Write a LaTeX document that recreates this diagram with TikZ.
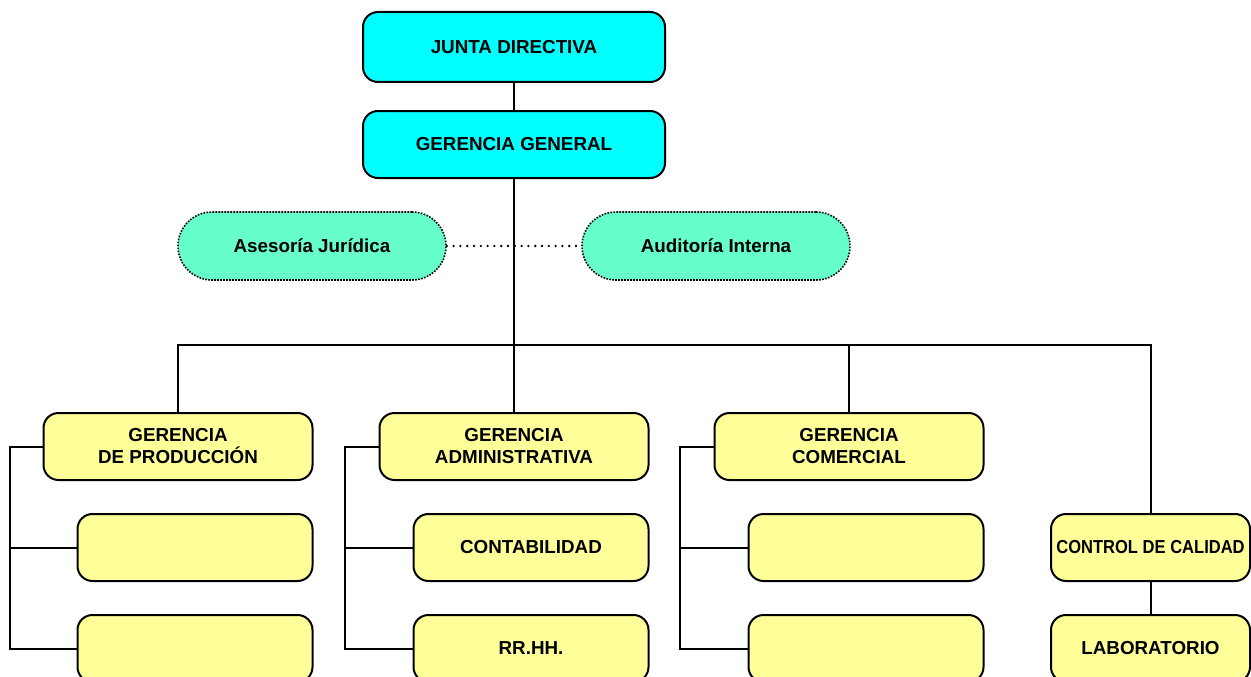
\documentclass[tikz,border=0pt]{standalone}
\usepackage{fontspec}
\setmainfont{Liberation Sans}
\definecolor{cielo}{HTML}{00FFFF}
\definecolor{menta}{HTML}{66FFCC}
\definecolor{crema}{HTML}{FFFF99}
\tikzset{
    caja/.style={draw, line width=2pt, rounded corners=15pt, align=center,
        font=\fontsize{18.8}{22}\selectfont\bfseries, inner sep=0pt},
    jefe/.style={caja, fill=cielo, minimum width=302pt, minimum height=70pt},
    asesor/.style={caja, fill=menta, rounded corners=34pt, line width=1.6pt,
        dash pattern=on 1.6pt off 1.4pt, minimum width=268pt, minimum height=68pt},
    gerencia/.style={caja, fill=crema, minimum width=269pt, minimum height=67pt},
    unidad/.style={caja, fill=crema, minimum width=235pt, minimum height=67pt},
    linea/.style={line width=2pt}
}
\begin{document}
\begin{tikzpicture}[x=1pt, y=-1pt]
        \useasboundingbox (0, 0) rectangle (1251, 677);

        \begin{scope}
            % cabeza
            \node[jefe] (junta) at (514, 47) {JUNTA DIRECTIVA};
            \node[jefe, minimum height=67pt] (general) at (514, 144.5) {GERENCIA GENERAL};

            % staff
            \node[asesor] (juridica) at (312, 246) {Asesoría Jurídica};
            \node[asesor] (auditoria) at (716, 246) {Auditoría Interna};

            % gerencias
            \node[gerencia] (produccion) at (178, 446.5) {GERENCIA\\DE PRODUCCIÓN};
            \node[gerencia] (admin) at (514, 446.5) {GERENCIA\\ADMINISTRATIVA};
            \node[gerencia] (comercial) at (849, 446.5) {GERENCIA\\COMERCIAL};
            \node[unidad, minimum width=199pt] (calidad) at (1150.5, 547.5) {\scalebox{0.88}[1]{CONTROL DE CALIDAD}};
            \node[unidad, minimum width=199pt] (lab) at (1150.5, 648.5) {LABORATORIO};

            % unidades
            \node[unidad] (prod1) at (195, 547.5) {};
            \node[unidad] (prod2) at (195, 648.5) {};
            \node[unidad] (conta) at (531, 547.5) {CONTABILIDAD};
            \node[unidad] (rrhh) at (531, 648.5) {RR.HH.};
            \node[unidad] (com1) at (866, 547.5) {};
            \node[unidad] (com2) at (866, 648.5) {};

            \coordinate (bus) at (514, 345);
        \end{scope}

        \begin{scope}[on background layer/.try]
            \draw[linea] (junta) -- (general);
            \draw[linea] (general) -- (admin);
            \draw[linea] (produccion.north) |- (bus) -| (calidad.north);
            \draw[linea] (comercial.north) -- (comercial.north |- bus);
            \draw[linea] (calidad) -- (lab);
            \draw[line width=2.6pt, line cap=round, dash pattern=on 0pt off 6.8pt] (juridica) -- (auditoria);

            \draw[linea] (produccion.west) -| ([xshift=-67pt]prod2.west) -- (prod2.west);
            \draw[linea] (prod1.west) -- ++(-67, 0);
            \draw[linea] (admin.west) -| ([xshift=-68pt]rrhh.west) -- (rrhh.west);
            \draw[linea] (conta.west) -- ++(-68, 0);
            \draw[linea] (comercial.west) -| ([xshift=-68pt]com2.west) -- (com2.west);
            \draw[linea] (com1.west) -- ++(-68, 0);
        \end{scope}

    \end{tikzpicture}
\end{document}
